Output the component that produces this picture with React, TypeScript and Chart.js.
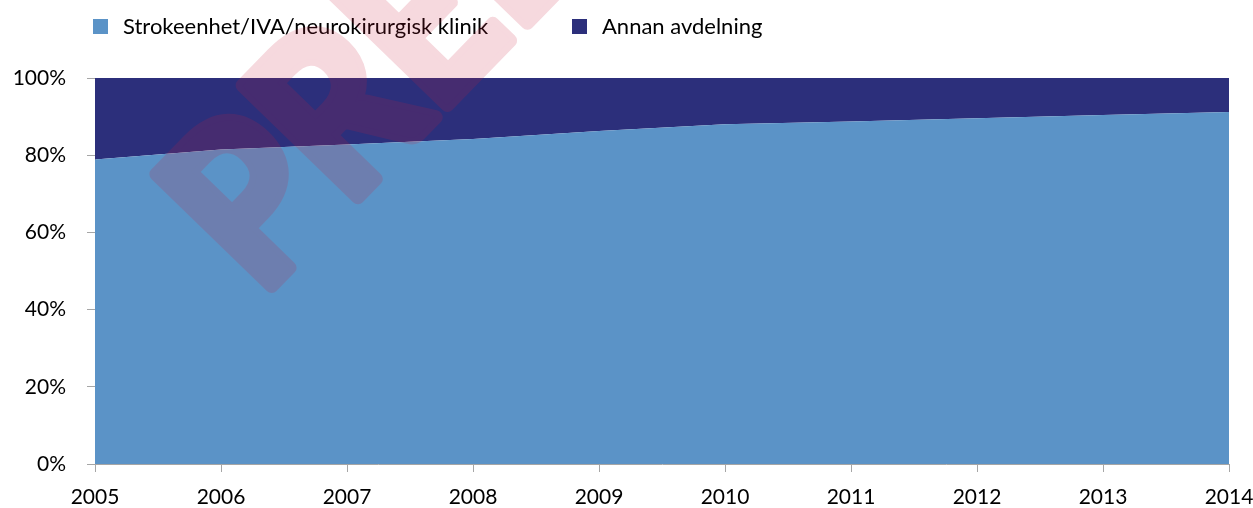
import React, { useEffect, useRef } from "react";
import { Chart, registerables } from "chart.js";

Chart.register(...registerables);

const years = ["2005", "2006", "2007", "2008", "2009", "2010", "2011", "2012", "2013", "2014"];
const strokeUnitShare = [78.9, 81.5, 82.8, 84.2, 86.3, 88.0, 88.7, 89.6, 90.4, 91.2];
const otherWardShare = [21.1, 18.5, 17.2, 15.8, 13.7, 12.0, 11.3, 10.4, 9.6, 8.8];
const seriesLabels = ["Strokeenhet/IVA/neurokirurgisk klinik", "Annan avdelning"];
const yTicks = [0, 20, 40, 60, 80, 100];
const watermarkText = "PRELIMINÄR";

const LIGHT = "#5B93C7";
const NAVY = "#2C2F7B";
const AXIS = "#A6A6A6";
const FONT = "Lato, 'Open Sans', sans-serif";

const legendPlugin = {
  id: "customLegend",
  afterDraw(chart: any) {
    const ctx = chart.ctx;
    const starts = [93, 572];
    ctx.save();
    ctx.font = `22px ${FONT}`;
    ctx.textBaseline = "alphabetic";
    chart.data.datasets.forEach((ds: any, i: number) => {
      const x = starts[i];
      ctx.fillStyle = ds.backgroundColor;
      ctx.fillRect(x, 19, 15, 15);
      ctx.fillStyle = "#000";
      ctx.fillText(ds.label, x + 30, 34);
    });
    ctx.restore();
  },
};

const watermarkPlugin = {
  id: "watermark",
  afterDraw(chart: any) {
    const { ctx, width, height } = chart;
    const off = document.createElement("canvas");
    off.width = width;
    off.height = height;
    const o = off.getContext("2d")!;
    o.translate(260, 298);
    o.rotate(-0.8);
    o.scale(0.9, 1);
    o.font = `bold 222px ${FONT}`;
    o.textBaseline = "alphabetic";
    o.fillStyle = "rgb(200,30,60)";
    o.strokeStyle = "rgb(200,30,60)";
    o.lineJoin = "round";
    o.lineWidth = 14;
    o.strokeText(watermarkText, 0, 0);
    o.fillText(watermarkText, 0, 0);
    ctx.save();
    ctx.globalAlpha = 0.17;
    ctx.drawImage(off, 0, 0);
    ctx.restore();
  },
};

export default function App() {
  const ref = useRef<HTMLCanvasElement>(null);
  useEffect(() => {
    document.body.style.margin = "0";
    const chart = new Chart(ref.current!, {
      type: "line",
      data: {
        labels: years,
        datasets: [
          {
            label: seriesLabels[0],
            data: strokeUnitShare,
            backgroundColor: LIGHT,
            borderColor: LIGHT,
            borderWidth: 0,
            pointRadius: 0,
            fill: "origin",
            tension: 0,
          },
          {
            label: seriesLabels[1],
            data: otherWardShare,
            backgroundColor: NAVY,
            borderColor: NAVY,
            borderWidth: 0,
            pointRadius: 0,
            fill: "-1",
            tension: 0,
          },
        ],
      },
      options: {
        responsive: false,
        animation: false,
        layout: { padding: { top: 78, right: 24, left: 0, bottom: 0 } },
        plugins: {
          legend: { display: false },
          tooltip: { enabled: false },
        },
        scales: {
          x: {
            offset: false,
            grid: { display: true, drawOnChartArea: false, drawTicks: true, tickLength: 8, color: AXIS },
            border: { display: true, color: AXIS, width: 1 },
            ticks: { color: "#000", font: { family: FONT, size: 21 }, padding: 13, maxRotation: 0, autoSkip: false },
            afterFit: (s: any) => {
              s.height = 44;
              s.paddingLeft = 0;
              s.paddingRight = 0;
            },
          },
          y: {
            stacked: true,
            min: 0,
            max: 100,
            afterBuildTicks: (s: any) => { s.ticks = yTicks.map((v) => ({ value: v })); },
            grid: { display: true, drawOnChartArea: false, drawTicks: true, tickLength: 8, color: AXIS },
            border: { display: true, color: AXIS, width: 1 },
            ticks: {
              color: "#000",
              font: { family: FONT, size: 21 },
              padding: 21,
              callback: (v: any) => `${v}%`,
            },
            afterFit: (s: any) => {
              s.width = 95;
              s.paddingTop = 0;
              s.paddingBottom = 0;
            },
          },
        },
      },
      plugins: [legendPlugin, watermarkPlugin],
    });
    return () => chart.destroy();
  }, []);
  return (
    <div style={{ position: "absolute", left: 0, top: 0, width: 1253, height: 508 }}>
      <canvas ref={ref} width={1253} height={508} />
    </div>
  );
}
